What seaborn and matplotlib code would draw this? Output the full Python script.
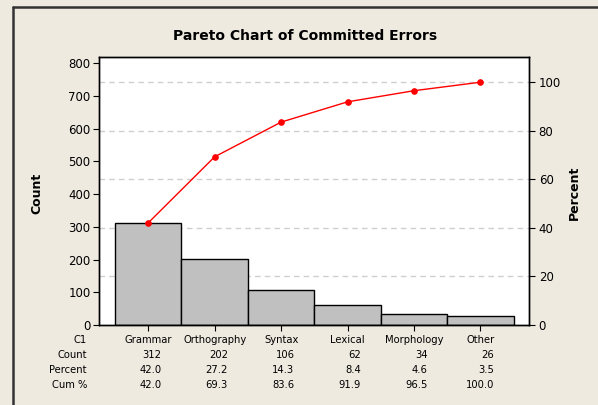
import numpy as np
import matplotlib
matplotlib.use("Agg")
import matplotlib.pyplot as plt
import seaborn as sns
from matplotlib.transforms import blended_transform_factory
from matplotlib.lines import Line2D

categories = ["Grammar", "Orthography", "Syntax", "Lexical", "Morphology", "Other"]
counts = [312, 202, 106, 62, 34, 26]
count_ticks = [0, 100, 200, 300, 400, 500, 600, 700, 800]
pct_ticks = [0, 20, 40, 60, 80, 100]
row_labels = ["C1", "Count", "Percent", "Cum %"]

total = sum(counts)
percent = [100.0 * c / total for c in counts]
cum_pct = list(np.cumsum(percent))

sns.set_theme(style="white")
plt.rcParams['font.family'] = ['DejaVu Sans']
plt.rcParams['text.color'] = 'black'
plt.rcParams['axes.labelcolor'] = 'black'
plt.rcParams['xtick.color'] = 'black'
plt.rcParams['ytick.color'] = 'black'

W, H = 598, 405
fig = plt.figure(figsize=(W / 100, H / 100), dpi=100)
bg = "#EEEAE0"
fig.patch.set_facecolor(bg)

# axes box in pixels
L, R, T, B = 99, 529, 57, 325
ax = fig.add_axes([L / W, 1 - B / H, (R - L) / W, (B - T) / H])
ax.set_facecolor("white")

ymax = 819
sns.barplot(x=categories, y=counts, color="#C0C0C0", saturation=1, width=1.0,
            edgecolor="black", linewidth=1.0, ax=ax, zorder=2)
ax.set_xlim(-0.74, 5.73)
ax.set_ylim(0, ymax)

# gridlines at percent levels (behind bars)
for p in pct_ticks[1:]:
    ax.axhline(total * p / 100.0, color="#CFCFCF", lw=1.0, ls=(0, (4, 3)), zorder=0)

ax.set_yticks(count_ticks)
ax.set_yticklabels([str(t) for t in count_ticks], fontsize=8.5)
ax.set_xticks(range(len(categories)))
ax.set_xticklabels([])
ax.tick_params(axis="both", direction="out", length=4, width=0.8, color="black",
               left=True, bottom=True, pad=2)
ax.set_xlabel("")
ax.set_ylabel("")
for s in ax.spines.values():
    s.set_color("black")
    s.set_linewidth(1.0)

ax2 = ax.twinx()
ax2.set_ylim(0, ymax * 100.0 / total)
sns.lineplot(x=list(range(len(categories))), y=cum_pct, ax=ax2, color="red",
             marker="o", markersize=4, markeredgecolor="red", linewidth=1.0)
ax2.set_yticks(pct_ticks)
ax2.set_yticklabels([str(t) for t in pct_ticks], fontsize=8.5)
ax2.tick_params(axis="y", direction="out", length=4, width=0.8, color="black",
                right=True, pad=3)
ax2.set_ylabel("")
ax2.grid(False)
for s in ax2.spines.values():
    s.set_color("black")
    s.set_linewidth(1.0)

# title and axis labels
fig.text(305 / W, 1 - 36 / H, "Pareto Chart of Committed Errors", ha="center",
         va="center", fontsize=10, fontweight="bold")
fig.text(37 / W, 1 - 193 / H, "Count", rotation=90, ha="center", va="center",
         fontsize=9, fontweight="bold")
fig.text(574 / W, 1 - 193 / H, "Percent", rotation=90, ha="center", va="center",
         fontsize=9, fontweight="bold")

# table below
tr = blended_transform_factory(ax.transData, fig.transFigure)
rows_y = [340, 355, 370, 385]
fs = 7.2
for lab, yy in zip(row_labels, rows_y):
    fig.text(87 / W, 1 - yy / H, lab, ha="right", va="center", fontsize=fs)
for i, cat in enumerate(categories):
    ax.text(i, 1 - rows_y[0] / H, cat, transform=tr, ha="center", va="center", fontsize=fs)
    ax.text(i + 0.2, 1 - rows_y[1] / H, str(counts[i]), transform=tr, ha="right", va="center", fontsize=fs)
    ax.text(i + 0.2, 1 - rows_y[2] / H, f"{percent[i]:.1f}", transform=tr, ha="right", va="center", fontsize=fs)
    ax.text(i + 0.2, 1 - rows_y[3] / H, f"{cum_pct[i]:.1f}", transform=tr, ha="right", va="center", fontsize=fs)

# frame border (left and top)
fig.add_artist(Line2D([12.5 / W, 12.5 / W], [0, 1 - 7 / H], transform=fig.transFigure,
                      color="#333333", lw=1.8))
fig.add_artist(Line2D([12.5 / W, 1], [1 - 7 / H, 1 - 7 / H], transform=fig.transFigure,
                      color="#333333", lw=1.8))

fig.savefig("out.png", dpi=100, facecolor=bg)
